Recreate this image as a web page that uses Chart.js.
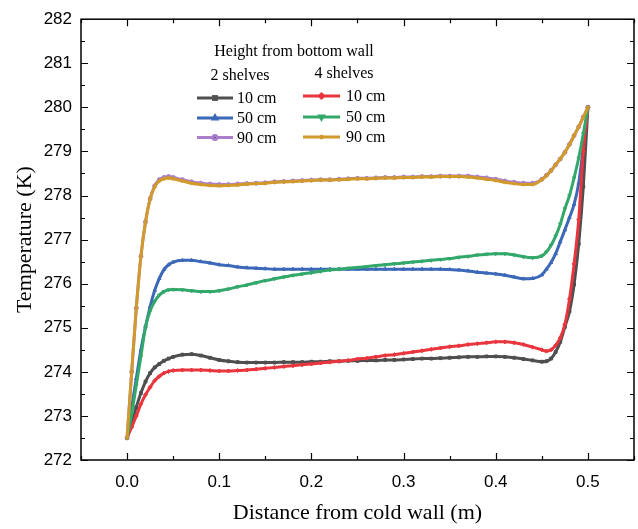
<!DOCTYPE html>
<html>
<head>
<meta charset="utf-8">
<script src="https://cdn.jsdelivr.net/npm/chart.js@4.4.1/dist/chart.umd.min.js"></script>
<style>
  html, body { margin: 0; padding: 0; background: #fff; }
  #wrap { width: 638px; height: 529px; position: relative; }
</style>
</head>
<body>
<div id="wrap"><canvas id="tempChart"></canvas></div>
<script>
// ----------------------
// Data
// ----------------------
const distances = [
  0, 0.005, 0.01, 0.015, 0.02, 0.025, 0.03, 0.035, 0.04, 0.045, 0.05,
  0.06, 0.07, 0.08, 0.09, 0.10, 0.11, 0.12, 0.13, 0.14, 0.15, 0.16, 0.17, 0.18, 0.19,
  0.20, 0.21, 0.22, 0.23, 0.24, 0.25, 0.26, 0.27, 0.28, 0.29, 0.30, 0.31, 0.32, 0.33,
  0.34, 0.35, 0.36, 0.37, 0.38, 0.39, 0.40, 0.41, 0.42, 0.43, 0.44,
  0.45, 0.455, 0.46, 0.465, 0.47, 0.475, 0.48, 0.485, 0.49, 0.495, 0.5
];

// 2 shelves
const twoShelves10 = [
  272.5, 272.85, 273.2, 273.52, 273.78, 273.97, 274.1, 274.18, 274.25, 274.3, 274.34,
  274.39, 274.4, 274.37, 274.32, 274.27, 274.24, 274.22, 274.21, 274.21, 274.21, 274.21, 274.22, 274.22, 274.22,
  274.23, 274.23, 274.24, 274.24, 274.25, 274.25, 274.26, 274.26, 274.27, 274.27, 274.28, 274.29, 274.3, 274.3,
  274.31, 274.32, 274.33, 274.34, 274.34, 274.35, 274.35, 274.34, 274.32, 274.29, 274.26,
  274.23, 274.24, 274.3, 274.45, 274.68, 275.02, 275.37, 275.98, 276.9, 278.2, 280.0
];
const twoShelves50 = [
  272.5, 273.2, 273.85, 274.5, 275.02, 275.48, 275.85, 276.12, 276.32, 276.43, 276.49,
  276.53, 276.53, 276.5, 276.47, 276.43, 276.41, 276.38, 276.36, 276.35, 276.34, 276.33, 276.33, 276.33, 276.33,
  276.33, 276.33, 276.33, 276.33, 276.33, 276.33, 276.33, 276.33, 276.33, 276.33, 276.33, 276.33, 276.33, 276.33,
  276.33, 276.32, 276.31, 276.29, 276.26, 276.24, 276.22, 276.19, 276.15, 276.11, 276.12,
  276.2, 276.33, 276.48, 276.68, 276.95, 277.22, 277.5, 277.8, 278.28, 279.1, 280.0
];
const twoShelves90 = [
  272.5, 274.0, 275.45, 276.62, 277.4, 277.93, 278.22, 278.36, 278.41, 278.43, 278.41,
  278.36, 278.31, 278.28, 278.26, 278.25, 278.25, 278.26, 278.27, 278.28, 278.29, 278.31, 278.32, 278.33, 278.34,
  278.35, 278.36, 278.36, 278.37, 278.38, 278.39, 278.39, 278.4, 278.41, 278.41, 278.42, 278.42, 278.43, 278.43,
  278.44, 278.44, 278.44, 278.44, 278.42, 278.4, 278.37, 278.33, 278.3, 278.28, 278.28,
  278.37, 278.46, 278.57, 278.7, 278.83, 278.98, 279.16, 279.36, 279.56, 279.78, 280.0
];

// 4 shelves
const fourShelves10 = [
  272.5, 272.75, 273.0, 273.27, 273.48, 273.65, 273.8, 273.9, 273.97, 274.01, 274.03,
  274.04, 274.04, 274.04, 274.03, 274.02, 274.02, 274.03, 274.04, 274.06, 274.08, 274.1, 274.12, 274.14, 274.16,
  274.18, 274.2, 274.22, 274.24, 274.26, 274.29, 274.31, 274.34, 274.37, 274.39, 274.42, 274.45, 274.48, 274.51,
  274.54, 274.57, 274.59, 274.62, 274.64, 274.66, 274.68, 274.68, 274.66, 274.62, 274.56,
  274.5, 274.47, 274.5, 274.6, 274.77, 275.08, 275.65, 276.45, 277.45, 279.0, 280.0
];
const fourShelves50 = [
  272.5, 273.05, 273.7, 274.35, 275.02, 275.38, 275.6, 275.74, 275.82, 275.86, 275.87,
  275.86, 275.84, 275.82, 275.82, 275.84, 275.88, 275.93, 275.97, 276.02, 276.07, 276.11, 276.15, 276.19, 276.22,
  276.25, 276.28, 276.31, 276.33, 276.35, 276.37, 276.39, 276.41, 276.43, 276.45, 276.47, 276.49, 276.51, 276.53,
  276.55, 276.57, 276.6, 276.62, 276.65, 276.67, 276.68, 276.68, 276.65, 276.61, 276.59,
  276.63, 276.72, 276.87, 277.08, 277.35, 277.7, 278.0, 278.4, 278.85, 279.4, 280.0
];
const fourShelves90 = [
  272.5, 274.0, 275.45, 276.62, 277.4, 277.92, 278.2, 278.33, 278.38, 278.4, 278.38,
  278.33, 278.28, 278.25, 278.23, 278.22, 278.23, 278.24, 278.26, 278.27, 278.28, 278.3, 278.31, 278.32, 278.33,
  278.34, 278.35, 278.35, 278.36, 278.37, 278.38, 278.38, 278.39, 278.4, 278.4, 278.41, 278.41, 278.42, 278.42,
  278.43, 278.43, 278.43, 278.42, 278.4, 278.37, 278.34, 278.3, 278.27, 278.25, 278.25,
  278.36, 278.45, 278.56, 278.7, 278.83, 278.98, 279.16, 279.36, 279.56, 279.78, 280.0
];

// axis ticks
const xTickValues = [0, 0.1, 0.2, 0.3, 0.4, 0.5];
const xMinorTicks = [-0.05, 0.05, 0.15, 0.25, 0.35, 0.45, 0.55];
const yTickValues = [272, 273, 274, 275, 276, 277, 278, 279, 280, 281, 282];
const yMinorTicks = [272.5, 273.5, 274.5, 275.5, 276.5, 277.5, 278.5, 279.5, 280.5, 281.5];

// colors
const cBlack = "#4f4f4f";
const cBlue = "#3c68b8";
const cPurple = "#a97fcb";
const cRed = "#e9363e";
const cGreen = "#33a86b";
const cGold = "#d19a2b";

const serif = "'Liberation Serif', 'Times New Roman', serif";
const sans = "'Liberation Sans', Arial, sans-serif";

function series(label, values, color, style, rot) {
  return {
    label: label,
    data: distances.map((d, i) => ({ x: d, y: values[i] })),
    borderColor: color,
    backgroundColor: color,
    borderWidth: 3,
    pointStyle: style,
    pointRotation: rot || 0,
    pointRadius: 2,
    pointBorderWidth: 1,
    pointHoverRadius: 2,
    cubicInterpolationMode: "monotone",
    fill: false
  };
}

// index 0 is drawn on top
const datasets = [
  series("4 shelves 90 cm", fourShelves90, cGold, "star"),
  series("4 shelves 50 cm", fourShelves50, cGreen, "triangle", 180),
  series("4 shelves 10 cm", fourShelves10, cRed, "rectRot"),
  series("2 shelves 90 cm", twoShelves90, cPurple, "circle"),
  series("2 shelves 50 cm", twoShelves50, cBlue, "triangle"),
  series("2 shelves 10 cm", twoShelves10, cBlack, "rect")
];

// ----------------------
// Frame + inward ticks
// ----------------------
const frameTicks = {
  id: "frameTicks",
  afterDatasetsDraw(chart) {
    const { ctx, chartArea: a, scales } = chart;
    const x = scales.x, y = scales.y;
    ctx.save();
    ctx.strokeStyle = "#000";
    ctx.lineWidth = 1.5;
    ctx.strokeRect(a.left, a.top, a.right - a.left, a.bottom - a.top);

    ctx.lineWidth = 1.2;
    ctx.beginPath();
    function xTick(v, len) {
      const px = Math.round(x.getPixelForValue(v)) + 0.5;
      ctx.moveTo(px, a.bottom); ctx.lineTo(px, a.bottom - len);
      ctx.moveTo(px, a.top); ctx.lineTo(px, a.top + len);
    }
    function yTick(v, len) {
      const py = Math.round(y.getPixelForValue(v)) + 0.5;
      ctx.moveTo(a.left, py); ctx.lineTo(a.left + len, py);
      ctx.moveTo(a.right, py); ctx.lineTo(a.right - len, py);
    }
    xTickValues.forEach(v => xTick(v, 7));
    xMinorTicks.forEach(v => xTick(v, 4));
    yTickValues.forEach(v => yTick(v, 7));
    yMinorTicks.forEach(v => yTick(v, 4));
    ctx.stroke();
    ctx.restore();
  }
};

// ----------------------
// Two-column legend
// ----------------------
const shelfLegend = {
  id: "shelfLegend",
  afterDraw(chart) {
    const ctx = chart.ctx;
    const ds = chart.data.datasets;
    ctx.save();
    ctx.fillStyle = "#000";
    ctx.font = "16px " + serif;
    ctx.textBaseline = "middle";
    ctx.textAlign = "center";
    ctx.fillText("Height from bottom wall", 294, 52);
    ctx.fillText("2 shelves", 240, 76);
    ctx.fillText("4 shelves", 344, 74);

    const cols = [
      { x0: 197, x1: 233, tx: 237, rows: [[5, "10 cm", 98], [4, "50 cm", 118], [3, "90 cm", 137.5]] },
      { x0: 303, x1: 340, tx: 346, rows: [[2, "10 cm", 96], [1, "50 cm", 117], [0, "90 cm", 137]] }
    ];
    cols.forEach(col => {
      col.rows.forEach(([idx, text, yy]) => {
        const d = ds[idx];
        ctx.strokeStyle = d.borderColor;
        ctx.lineWidth = 3;
        ctx.beginPath();
        ctx.moveTo(col.x0, yy);
        ctx.lineTo(col.x1, yy);
        ctx.stroke();
        Chart.helpers.drawPoint(ctx, {
          pointStyle: d.pointStyle, rotation: d.pointRotation, radius: 2, borderWidth: 1
        }, (col.x0 + col.x1) / 2, yy);
        ctx.fillStyle = "#000";
        ctx.textAlign = "left";
        ctx.fillText(text, col.tx, yy + 1);
      });
    });
    ctx.restore();
  }
};

new Chart(document.getElementById("tempChart"), {
  type: "line",
  data: { datasets: datasets },
  options: {
    responsive: true,
    maintainAspectRatio: false,
    animation: false,
    events: [],
    layout: { padding: { left: 0, right: 4, top: 15, bottom: 0 } },
    plugins: {
      legend: { display: false },
      tooltip: { enabled: false }
    },
    scales: {
      x: {
        type: "linear",
        min: -0.05,
        max: 0.55,
        afterBuildTicks: s => { s.ticks = xTickValues.map(v => ({ value: v })); },
        afterFit: s => { s.height = 69; },
        grid: { display: false, drawTicks: false },
        border: { display: false },
        ticks: {
          padding: 12,
          color: "#000",
          font: { family: sans, size: 17 },
          callback: v => Number(v).toFixed(1)
        },
        title: {
          display: true,
          text: "Distance from cold wall (m)",
          color: "#000",
          font: { family: serif, size: 22 },
          padding: { top: 0, bottom: 3 }
        }
      },
      y: {
        type: "linear",
        min: 272,
        max: 282,
        afterBuildTicks: s => { s.ticks = yTickValues.map(v => ({ value: v })); },
        afterFit: s => { s.width = 81; },
        grid: { display: false, drawTicks: false },
        border: { display: false },
        ticks: {
          padding: 9,
          color: "#000",
          font: { family: sans, size: 17 }
        },
        title: {
          display: true,
          text: "Temperature (K)",
          color: "#000",
          font: { family: serif, size: 22 },
          padding: { top: 12, bottom: 0 }
        }
      }
    }
  },
  plugins: [frameTicks, shelfLegend]
});
</script>
</body>
</html>
